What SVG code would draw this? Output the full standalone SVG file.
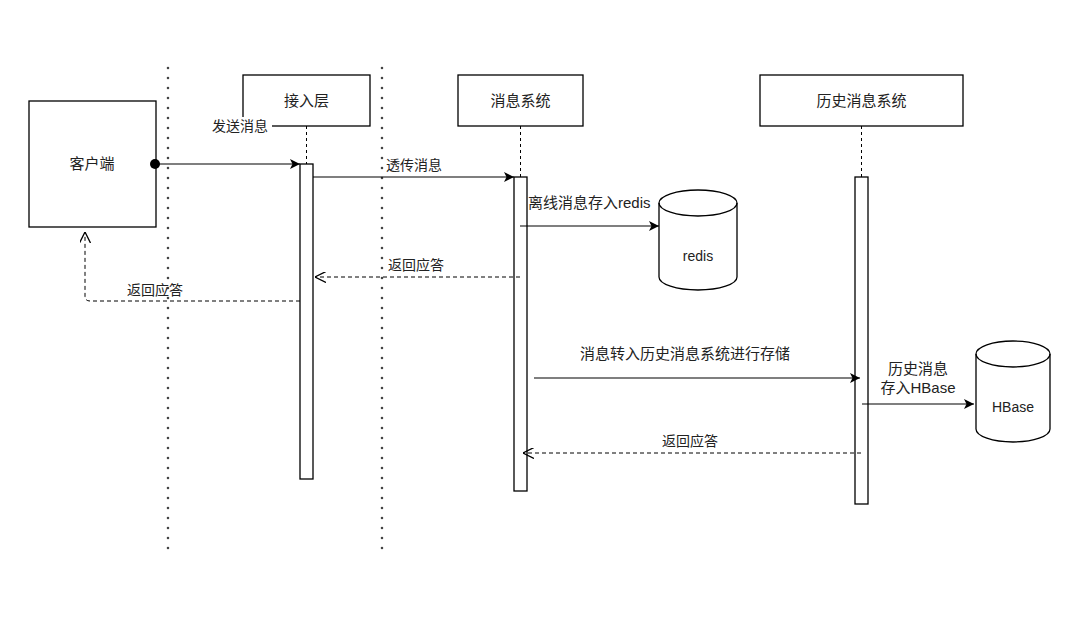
<svg xmlns="http://www.w3.org/2000/svg" width="1080" height="620" viewBox="0 0 1080 620">
<defs>
<style>
.box{fill:#fff;stroke:#000;stroke-width:1.3}
.t{font-family:"Liberation Sans","Noto Sans CJK SC",sans-serif;font-size:14px;fill:#222}
.n{font-size:15px}
.tc{text-anchor:middle}
.life{stroke:#000;stroke-width:1;stroke-dasharray:3 3}
.msg{stroke:#000;stroke-width:1.2;fill:none}
.ret{stroke:#000;stroke-width:1;fill:none;stroke-dasharray:4 3}
.sep{stroke:#444;stroke-width:2.6;stroke-linecap:round;stroke-dasharray:0 10}
</style>
<marker id="fa" viewBox="0 0 10 10" refX="10" refY="5" markerWidth="10" markerHeight="10" markerUnits="userSpaceOnUse" orient="auto"><path d="M0,0 L10,5 L0,10 L2.5,5 Z" fill="#000"/></marker>
<marker id="oa" viewBox="0 0 10 10" refX="10" refY="5" markerWidth="11" markerHeight="11" markerUnits="userSpaceOnUse" orient="auto"><path d="M0,0 L10,5 L0,10" fill="none" stroke="#000" stroke-width="1.2"/></marker>
</defs>
<rect width="1080" height="620" fill="#fff"/>
<g id="separators">
<line class="sep" x1="168" y1="68" x2="168" y2="554"/>
<line class="sep" x1="382" y1="68" x2="382" y2="554"/>
</g>
<g id="client"><rect class="box" x="29" y="101" width="127" height="126"/><text class="t n tc" x="92" y="169">客户端</text></g>
<g id="access">
<line class="life" x1="306.5" y1="126" x2="306.5" y2="164"/>
<rect class="box" x="243" y="75" width="127" height="51"/><text class="t n tc" x="306.5" y="106">接入层</text>
<rect class="box" x="300" y="164" width="13" height="315"/>
</g>
<g id="msgsys">
<line class="life" x1="520.5" y1="126" x2="520.5" y2="177"/>
<rect class="box" x="458" y="75" width="125" height="51"/><text class="t n tc" x="520.5" y="106">消息系统</text>
<rect class="box" x="514" y="177" width="13" height="314"/>
</g>
<g id="histsys">
<line class="life" x1="861.5" y1="126" x2="861.5" y2="177"/>
<rect class="box" x="760" y="75" width="203" height="51"/><text class="t n tc" x="861.5" y="106">历史消息系统</text>
<rect class="box" x="855" y="177" width="13" height="327"/>
</g>
<g id="redis">
<path class="box" d="M659,203 L659,277 A39,13 0 0 0 737,277 L737,203 A39,13 0 0 0 659,203 Z"/>
<path d="M659,203 A39,13 0 0 0 737,203" fill="none" stroke="#000" stroke-width="1.3"/>
<text class="t tc" x="698" y="261">redis</text>
</g>
<g id="hbase">
<path class="box" d="M976,354 L976,429 A37,13 0 0 0 1050,429 L1050,354 A37,13 0 0 0 976,354 Z"/>
<path d="M976,354 A37,13 0 0 0 1050,354" fill="none" stroke="#000" stroke-width="1.3"/>
<text class="t tc" x="1013" y="412">HBase</text>
</g>
<g id="connectors">
<circle cx="155" cy="164" r="5" fill="#000"/>
<line class="msg" x1="155" y1="164" x2="300" y2="164" marker-end="url(#fa)"/>
<rect x="210" y="117" width="62" height="18" fill="#fff"/>
<text class="t" x="212" y="131">发送消息</text>
<line class="msg" x1="313" y1="177" x2="514" y2="177" marker-end="url(#fa)"/>
<text class="t" x="386" y="170">透传消息</text>
<line class="msg" x1="520" y1="226" x2="659" y2="226" marker-end="url(#fa)"/>
<text class="t n" x="528" y="208">离线消息存入redis</text>
<line class="ret" x1="520" y1="277" x2="315" y2="277" marker-end="url(#oa)"/>
<text class="t tc" x="416" y="270">返回应答</text>
<path class="ret" d="M300,301 L90,301 Q85,301 85,296 L85,232" marker-end="url(#oa)"/>
<text class="t tc" x="155" y="295">返回应答</text>
<line class="msg" x1="534" y1="378" x2="860" y2="378" marker-end="url(#fa)"/>
<text class="t n tc" x="685" y="359">消息转入历史消息系统进行存储</text>
<line class="msg" x1="862" y1="404" x2="974" y2="404" marker-end="url(#fa)"/>
<text class="t n tc" x="918" y="374">历史消息</text>
<text class="t n tc" x="918" y="393">存入HBase</text>
<line class="ret" x1="861" y1="453" x2="523" y2="453" marker-end="url(#oa)"/>
<text class="t tc" x="690" y="446">返回应答</text>
</g>
</svg>
